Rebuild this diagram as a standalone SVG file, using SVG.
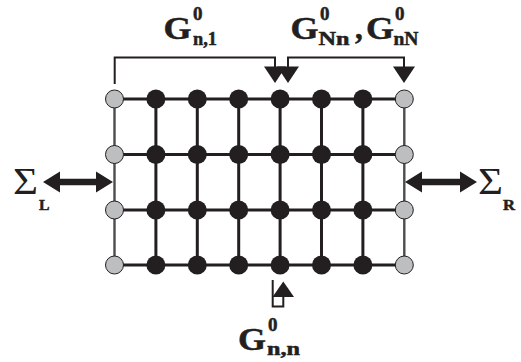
<svg xmlns="http://www.w3.org/2000/svg" width="521" height="362" viewBox="0 0 521 362">
<style>
.g{stroke:#231f20;stroke-width:3;fill:none}
.e{stroke:#4d4d4f;stroke-width:2.4;fill:none}
.c{stroke:#231f20;stroke-width:2;fill:none}
.a{fill:#231f20}
.b{fill:#231f20}
.gy{fill:#bcbec0;stroke:#231f20;stroke-width:1}
.t{font-family:"Liberation Serif","Times New Roman",serif;font-weight:bold;fill:#231f20;stroke:#231f20;stroke-width:0.5}
.s{font-family:"Liberation Serif","Times New Roman",serif;fill:#231f20}
</style>
<g id="connectors">
<path class="g" d="M114.5 99H404.3M114.5 154.5H404.3M114.5 210H404.3M114.5 265H404.3"/>
<path class="g" d="M155.9 99V265M197.3 99V265M238.7 99V265M280.1 99V265M321.5 99V265M362.9 99V265"/>
<path class="e" d="M114.5 99V265M404.3 99V265"/>
<path class="c" d="M114.7 84V57.5H275V68"/>
<path class="c" d="M288 68V57.5H404V68"/>
<polygon class="a" points="264,66.5 286,66.5 275,83"/>
<polygon class="a" points="277,66.5 299,66.5 288,83"/>
<polygon class="a" points="393,66.5 415,66.5 404,83"/>
<path class="c" d="M272.7 280V306.5H283.3V296"/>
<polygon class="a" points="272.5,297 294,297 283.3,281.5"/>
<path d="M58 182H98" stroke="#231f20" stroke-width="6.5"/>
<polygon class="a" points="43,182 60,171.5 60,192.5"/>
<polygon class="a" points="113,182 96,171.5 96,192.5"/>
<path d="M421 182H461" stroke="#231f20" stroke-width="6.5"/>
<polygon class="a" points="405,182 422,171.5 422,192.5"/>
<polygon class="a" points="477,182 460,171.5 460,192.5"/>
</g>
<g id="nodes-left">
<circle class="gy" cx="114.5" cy="99" r="9"/>
<circle class="gy" cx="114.5" cy="154.5" r="9"/>
<circle class="gy" cx="114.5" cy="210" r="9"/>
<circle class="gy" cx="114.5" cy="265" r="9"/>
</g>
<g id="nodes-right">
<circle class="gy" cx="404.3" cy="99" r="9"/>
<circle class="gy" cx="404.3" cy="154.5" r="9"/>
<circle class="gy" cx="404.3" cy="210" r="9"/>
<circle class="gy" cx="404.3" cy="265" r="9"/>
</g>
<g id="nodes-interior">
<g class="b">
<circle cx="155.9" cy="99" r="9.5"/><circle cx="197.3" cy="99" r="9.5"/><circle cx="238.7" cy="99" r="9.5"/><circle cx="280.1" cy="99" r="9.5"/><circle cx="321.5" cy="99" r="9.5"/><circle cx="362.9" cy="99" r="9.5"/>
<circle cx="155.9" cy="154.5" r="9.5"/><circle cx="197.3" cy="154.5" r="9.5"/><circle cx="238.7" cy="154.5" r="9.5"/><circle cx="280.1" cy="154.5" r="9.5"/><circle cx="321.5" cy="154.5" r="9.5"/><circle cx="362.9" cy="154.5" r="9.5"/>
<circle cx="155.9" cy="210" r="9.5"/><circle cx="197.3" cy="210" r="9.5"/><circle cx="238.7" cy="210" r="9.5"/><circle cx="280.1" cy="210" r="9.5"/><circle cx="321.5" cy="210" r="9.5"/><circle cx="362.9" cy="210" r="9.5"/>
<circle cx="155.9" cy="265" r="9.5"/><circle cx="197.3" cy="265" r="9.5"/><circle cx="238.7" cy="265" r="9.5"/><circle cx="280.1" cy="265" r="9.5"/><circle cx="321.5" cy="265" r="9.5"/><circle cx="362.9" cy="265" r="9.5"/>
</g>
</g>
<g id="label-gn1">
<text class="t" x="163.5" y="38.5" font-size="31" textLength="28" lengthAdjust="spacingAndGlyphs">G</text>
<text class="t" x="193" y="20" font-size="19">0</text>
<text class="t" x="193" y="44.5" font-size="18.5" textLength="24" lengthAdjust="spacingAndGlyphs">n,1</text>
</g>
<g id="label-gNn">
<text class="t" x="290.5" y="38.5" font-size="31" textLength="28" lengthAdjust="spacingAndGlyphs">G</text>
<text class="t" x="320" y="20" font-size="19">0</text>
<text class="t" x="318.5" y="44.5" font-size="18.5" textLength="31" lengthAdjust="spacingAndGlyphs">Nn</text>
<text class="t" x="355" y="38.5" font-size="31">,</text>
<text class="t" x="366" y="38.5" font-size="31" textLength="28" lengthAdjust="spacingAndGlyphs">G</text>
<text class="t" x="395" y="20" font-size="19">0</text>
<text class="t" x="393.5" y="44.5" font-size="18.5" textLength="25" lengthAdjust="spacingAndGlyphs">nN</text>
</g>
<g id="label-gnn">
<text class="t" x="238" y="349.5" font-size="31" textLength="28" lengthAdjust="spacingAndGlyphs">G</text>
<text class="t" x="268" y="331" font-size="19">0</text>
<text class="t" x="267" y="355" font-size="18.5" textLength="33" lengthAdjust="spacingAndGlyphs">n,n</text>
</g>
<g id="label-sigmaL">
<text class="s" x="13" y="193.5" font-size="38" textLength="25" lengthAdjust="spacingAndGlyphs">Σ</text>
<text class="t" x="39" y="209.5" font-size="15" textLength="10.5" lengthAdjust="spacingAndGlyphs">L</text>
</g>
<g id="label-sigmaR">
<text class="s" x="478" y="193.5" font-size="38" textLength="25" lengthAdjust="spacingAndGlyphs">Σ</text>
<text class="t" x="503" y="209.5" font-size="15" textLength="12" lengthAdjust="spacingAndGlyphs">R</text>
</g>
</svg>
